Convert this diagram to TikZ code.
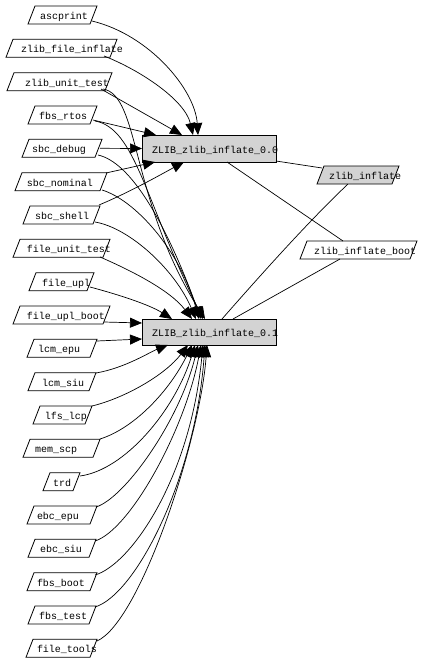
\documentclass[tikz,border=0pt]{standalone}
\usepackage{fontspec}
\setmonofont{Liberation Mono}
\usetikzlibrary{arrows.meta,calc}
\definecolor{boxgray}{HTML}{D3D3D3}
\tikzset{
  pgbox/.style={rectangle, draw=none, minimum height=18, inner sep=0, outer sep=0},
  pgline/.style={draw=black, line width=0.8pt},
  vbox/.style={rectangle, draw=black, line width=0.8pt, fill=boxgray, minimum width=134, inner sep=0, outer sep=0},
  lbl/.style={anchor=base west, inner sep=0, outer sep=0, font=\ttfamily\fontsize{10}{12}\selectfont},
  edge/.style={draw=black, line width=0.7pt},
  arr/.style={edge, -{Triangle[length=12pt,width=10pt]}}
}
\newcommand\pgnode[7]{%
  \node[pgbox, minimum width=#4] (#1) at (#2,#3) {};
  \draw[pgline, fill=#7] (#1.south west) -- ($(#1.south east)+(-7,0)$) -- (#1.north east) -- ($(#1.north west)+(7,0)$) -- cycle;
  \node[lbl] (#1-t) at (#5,#3+4.5) {#6};
}
\begin{document}
\begin{tikzpicture}[x=1pt,y=-1pt]
\useasboundingbox[fill=white] (0,0) rectangle (421,662);
% left nodes
\pgnode{ascprint}{62.5}{15}{69}{40}{ascprint}{white}
\pgnode{zfi}{61.5}{48.3}{111}{21}{zlib\_file\_inflate}{white}
\pgnode{zut}{59.5}{81.7}{105}{25}{zlib\_unit\_test}{white}
\pgnode{fbsrtos}{62.5}{115}{69}{39}{fbs\_rtos}{white}
\pgnode{sbcdebug}{62}{148.3}{80}{32}{sbc\_debug}{white}
\pgnode{sbcnominal}{61}{181.7}{92}{27}{sbc\_nominal}{white}
\pgnode{sbcshell}{61.5}{215}{77}{35}{sbc\_shell}{white}
\pgnode{fut}{61.5}{248.3}{97}{27}{file\_unit\_test}{white}
\pgnode{fileupl}{61.5}{281.7}{65}{42}{file\_upl}{white}
\pgnode{fub}{61.5}{315}{97}{27}{file\_upl\_boot}{white}
\pgnode{lcmepu}{62}{348.3}{70}{38}{lcm\_epu}{white}
\pgnode{lcmsiu}{62}{381.7}{68}{42}{lcm\_siu}{white}
\pgnode{lfslcp}{62.5}{415}{59}{45}{lfs\_lcp}{white}
\pgnode{memscp}{61.5}{448.3}{77}{35}{mem\_scp}{white}
\pgnode{trd}{61.5}{481.7}{37}{53}{trd}{white}
\pgnode{ebcepu}{62}{515}{70}{37}{ebc\_epu}{white}
\pgnode{ebcsiu}{62}{548.3}{68}{40}{ebc\_siu}{white}
\pgnode{fbsboot}{62}{581.7}{70}{37}{fbs\_boot}{white}
\pgnode{fbstest}{62}{615}{68}{39}{fbs\_test}{white}
\pgnode{filetools}{61.5}{648.3}{71}{37}{file\_tools}{white}
% middle nodes
\node[vbox, minimum height=27] (v00) at (209,148.5) {};
\node[lbl] (v00-t) at (152,153) {ZLIB\_zlib\_inflate\_0.0};
\node[vbox, minimum height=26] (v01) at (209,332) {};
\node[lbl] (v01-t) at (152,336.5) {ZLIB\_zlib\_inflate\_0.1};
% right nodes
\pgnode{zi}{358}{175}{82}{329}{zlib\_inflate}{boxgray}
\pgnode{zib}{358.5}{250}{117}{314}{zlib\_inflate\_boot}{white}
% edges to 0.0
\draw[arr] ($(ascprint)+(29.5,6)$) .. controls (150,35) and (195,90) .. ($(v00)+(-11,-13.5)$);
\draw[arr] ($(zfi)+(42.5,7.7)$) .. controls (140,70) and (185,100) .. ($(v00)+(-16,-13.5)$);
\draw[arr] ($(zut)+(41.5,7.3)$) -- ($(v00)+(-27,-13.5)$);
\draw[arr] ($(fbsrtos)+(30.5,5)$) -- ($(v00)+(-53,-13.5)$);
\draw[arr] ($(sbcdebug)+(38,0)$) -- ($(v00)+(-67,0)$);
\draw[arr] ($(sbcnominal)+(45,-8.7)$) -- ($(v00)+(-54,13.5)$);
\draw[arr] ($(sbcshell)+(37.5,-10)$) .. controls (130,192) and (160,175) .. ($(v00)+(-25,13.5)$);
% edges to 0.1 (top)
\draw[arr] ($(zut)+(43.5,7.3)$) .. controls (140,95) and (130,200) .. ($(v01)+(-4,-13)$);
\draw[arr] ($(fbsrtos)+(32.5,6)$) .. controls (135,128) and (145,200) .. ($(v01)+(-6,-13)$);
\draw[arr] ($(sbcdebug)+(36,6.7)$) .. controls (130,162) and (165,220) .. ($(v01)+(-8,-13)$);
\draw[arr] ($(sbcnominal)+(41,8.3)$) .. controls (135,200) and (180,250) .. ($(v01)+(-10,-13)$);
\draw[arr] ($(sbcshell)+(33.5,7)$) .. controls (130,228) and (175,270) .. ($(v01)+(-13,-13)$);
\draw[arr] ($(fut)+(38.5,8.7)$) .. controls (130,270) and (170,290) .. ($(v01)+(-17,-13)$);
\draw[arr] ($(fileupl)+(28.5,5.3)$) .. controls (120,295) and (150,305) .. ($(v01)+(-37,-13)$);
\draw[arr] ($(fub)+(42.5,7)$) -- ($(v01)+(-67,-9)$);
% edges to 0.1 (bottom)
\draw[arr] ($(lcmepu)+(35,-7.3)$) -- ($(v01)+(-67,7)$);
\draw[arr] ($(lcmsiu)+(34,-8.7)$) .. controls (125,368) and (150,352) .. ($(v01)+(-41,13)$);
\draw[arr] ($(lfslcp)+(29.5,-9)$) .. controls (125,398) and (165,375) .. ($(v01)+(-21,13)$);
\draw[arr] ($(memscp)+(38.5,-9.3)$) .. controls (135,428) and (170,390) .. ($(v01)+(-17,13)$);
\draw[arr] ($(trd)+(18.5,-5.7)$) .. controls (125,470) and (175,410) .. ($(v01)+(-14,13)$);
\draw[arr] ($(ebcepu)+(34,-8)$) .. controls (125,498) and (180,420) .. ($(v01)+(-11,13)$);
\draw[arr] ($(ebcsiu)+(33,-7.3)$) .. controls (130,530) and (185,430) .. ($(v01)+(-8,13)$);
\draw[arr] ($(fbsboot)+(33,-6.7)$) .. controls (130,565) and (190,480) .. ($(v01)+(-6,13)$);
\draw[arr] ($(fbstest)+(33,-8)$) .. controls (135,595) and (195,480) .. ($(v01)+(-4,13)$);
\draw[arr] ($(filetools)+(35.5,-7.3)$) .. controls (140,622) and (200,440) .. ($(v01)+(-2,13)$);
% right edges
\draw[edge] ($(v00)+(67,12.5)$) -- ($(zi)+(-36,-7)$);
\draw[edge] ($(v00)+(18,13.5)$) -- ($(zib)+(-15.5,-9)$);
\draw[edge] ($(v01)+(13,-13)$) .. controls (265,270) and (310,220) .. ($(zi)+(-10,9)$);
\draw[edge] ($(v01)+(24,-13)$) -- ($(zib)+(-18.5,9)$);
\end{tikzpicture}
\end{document}
